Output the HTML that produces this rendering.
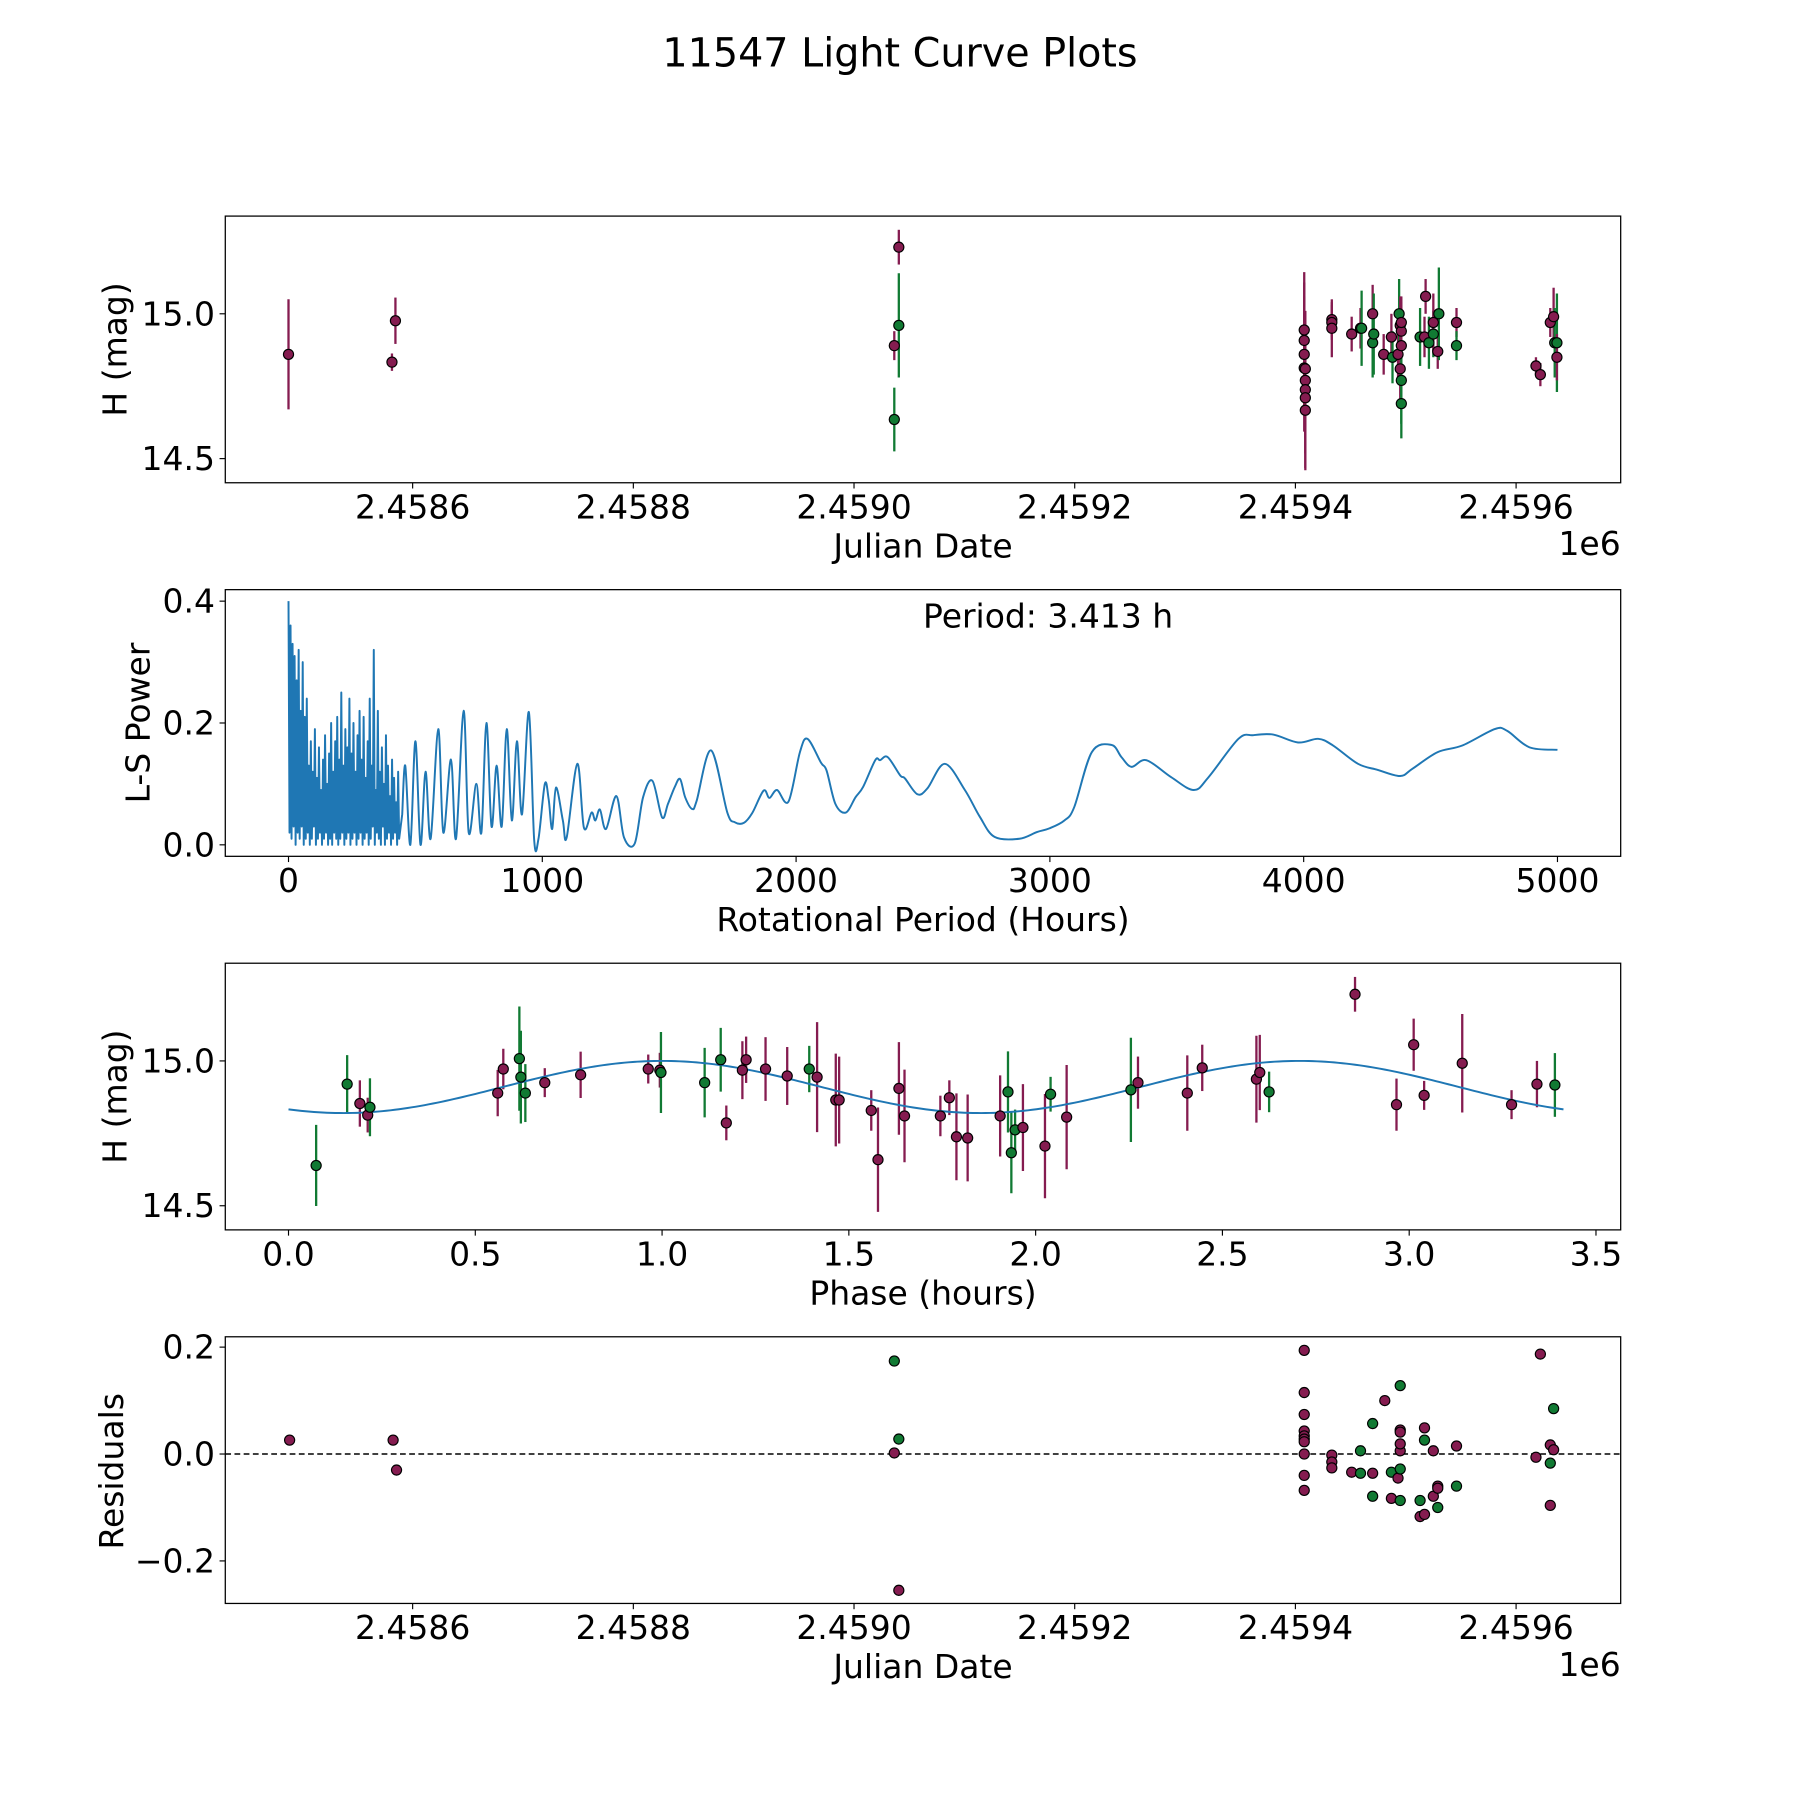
<!DOCTYPE html>
<html><head><meta charset="utf-8"><title>11547 Light Curve Plots</title>
<style>html,body{margin:0;padding:0;background:#fff}svg{display:block}text{font-family:"DejaVu Sans","Liberation Sans",sans-serif;fill:#000}</style>
</head><body>
<svg id="fig" width="1800" height="1800" viewBox="0 0 1566 1566" xmlns="http://www.w3.org/2000/svg">
<rect width="1566" height="1566" fill="#fff"/>
<text x="783" y="58" font-size="34.5" text-anchor="middle">11547 Light Curve Plots</text>
</svg>
<script>
// ---------- data ----------
const lcDay = [-112.5,-18.75,-15.6,436.5,440.6,436.5,440.6,808,808,808,808,809,809,809,809,809,833,833,833,851,859,860,870,870,871,880,887,888,893,894,895,895,896,896,896,896,896,913,917,918,921,925,925,929,930,946,946,1018,1022,1031,1034,1035,1037,1037];
const lcMag = [14.86,14.833,14.976,14.89,15.23,14.635,14.96,14.944,14.908,14.86,14.813,14.81,14.77,14.738,14.71,14.667,14.98,14.97,14.95,14.93,14.95,14.95,15.0,14.9,14.93,14.86,14.92,14.85,14.86,15.0,14.81,14.96,14.94,14.89,14.77,14.69,14.97,14.92,14.92,15.06,14.9,14.93,14.97,14.87,15.0,14.97,14.89,14.82,14.79,14.97,14.99,14.9,14.9,14.85];
const lcErr = [0.19,0.03,0.08,0.05,0.06,0.11,0.18,0.2,0.2,0.2,0.22,0.2,0.2,0.22,0.25,0.2,0.06,0.06,0.1,0.06,0.07,0.13,0.1,0.12,0.14,0.07,0.08,0.09,0.08,0.12,0.12,0.1,0.1,0.09,0.15,0.12,0.09,0.1,0.07,0.06,0.09,0.08,0.1,0.06,0.16,0.05,0.05,0.03,0.04,0.05,0.1,0.12,0.17,0.08];
const lcBand = ['p','p','p','p','p','g','g','p','p','p','p','p','p','p','p','p','p','p','p','p','p','g','p','g','g','p','p','g','p','g','p','p','p','p','g','g','p','g','p','p','g','g','p','p','g','p','g','p','p','p','p','g','g','p'];
const denseStart = 0, denseStep = 4;
const powerDense = [0.40,0.02,0.36,0.01,0.33,0.03,0.31,0.00,0.27,0.02,0.32,0.01,0.22,0.03,0.30,0.00,0.21,0.01,0.24,0.02,0.13,0.00,0.17,0.01,0.12,0.03,0.19,0.00,0.11,0.01,0.16,0.02,0.09,0.00,0.14,0.01,0.18,0.02,0.10,0.00,0.15,0.01,0.20,0.00,0.12,0.02,0.17,0.01,0.21,0.00,0.14,0.01,0.25,0.02,0.13,0.00,0.19,0.01,0.16,0.02,0.24,0.00,0.15,0.01,0.20,0.02,0.12,0.00,0.18,0.01,0.22,0.02,0.14,0.00,0.21,0.01,0.11,0.02,0.17,0.00,0.24,0.01,0.13,0.03,0.32,0.00,0.09,0.02,0.22,0.01,0.12,0.00,0.16,0.03,0.10,0.00,0.18,0.01,0.13,0.02,0.08,0.00,0.14,0.01,0.11,0.02,0.07,0.00,0.12,0.01];
const periodSparse = [448,460,480,500,520,540,560,590,610,640,660,690,710,740,760,780,800,820,840,860,880,900,920,947,968,985,1010,1025,1039,1054,1081,1096,1138,1164,1194,1209,1227,1251,1292,1322,1364,1397,1434,1472,1495,1522,1543,1563,1590,1608,1665,1729,1759,1794,1827,1872,1895,1925,1970,2015,2045,2098,2120,2155,2196,2234,2264,2312,2331,2361,2410,2429,2478,2518,2586,2665,2724,2782,2880,2949,2998,3057,3096,3165,3243,3282,3322,3380,3478,3567,3625,3743,3802,3880,3978,4057,4116,4214,4292,4380,4429,4527,4625,4753,4802,4890,5000];
const powerSparse = [0.05,0.13,0.0,0.17,0.0,0.12,0.01,0.19,0.02,0.14,0.01,0.22,0.02,0.1,0.02,0.2,0.03,0.13,0.03,0.19,0.04,0.17,0.05,0.218,0.008,0.01,0.10,0.075,0.026,0.094,0.04,0.012,0.133,0.028,0.053,0.04,0.058,0.026,0.08,0.012,0.002,0.078,0.105,0.045,0.067,0.095,0.108,0.078,0.059,0.072,0.155,0.053,0.037,0.036,0.052,0.089,0.077,0.09,0.071,0.152,0.174,0.135,0.122,0.067,0.053,0.078,0.095,0.139,0.139,0.144,0.114,0.109,0.083,0.093,0.133,0.09,0.046,0.013,0.010,0.021,0.027,0.04,0.062,0.152,0.164,0.144,0.128,0.139,0.111,0.09,0.111,0.174,0.180,0.181,0.168,0.174,0.163,0.133,0.123,0.113,0.125,0.152,0.163,0.19,0.187,0.16,0.156];
const phPhase = [0.074,0.157,0.191,0.212,0.218,0.56,0.575,0.618,0.622,0.634,0.686,0.782,0.963,0.994,0.997,1.114,1.172,1.157,1.215,1.225,1.277,1.335,1.394,1.415,1.465,1.474,1.56,1.578,1.634,1.649,1.745,1.769,1.788,1.818,1.905,1.926,1.935,1.945,1.966,2.025,2.04,2.083,2.255,2.274,2.406,2.446,2.591,2.6,2.625,2.855,2.966,3.012,3.04,3.142,3.274,3.342,3.39];
const phMag = [14.639,14.92,14.853,14.813,14.84,14.889,14.972,15.008,14.944,14.889,14.925,14.952,14.972,14.968,14.96,14.925,14.786,15.004,14.968,15.004,14.972,14.948,14.972,14.944,14.865,14.865,14.829,14.659,14.905,14.81,14.81,14.873,14.738,14.734,14.81,14.893,14.683,14.762,14.77,14.706,14.885,14.806,14.9,14.925,14.889,14.976,14.937,14.96,14.893,15.23,14.849,15.056,14.881,14.992,14.849,14.92,14.917];
const phErr = [0.14,0.1,0.08,0.06,0.1,0.08,0.07,0.18,0.16,0.1,0.05,0.08,0.05,0.06,0.14,0.12,0.06,0.11,0.1,0.08,0.11,0.1,0.08,0.19,0.16,0.15,0.07,0.18,0.16,0.16,0.07,0.06,0.15,0.15,0.14,0.14,0.14,0.07,0.15,0.18,0.06,0.18,0.18,0.09,0.13,0.08,0.15,0.13,0.07,0.06,0.09,0.09,0.05,0.17,0.05,0.08,0.11];
const phBand = ['g','g','p','p','g','p','p','g','g','g','p','p','p','p','g','g','p','g','p','p','p','p','g','p','p','p','p','p','p','p','p','p','p','p','p','g','g','g','p','p','g','p','g','p','p','p','p','p','g','p','p','p','p','p','p','p','g'];
const fitMean = 14.91, fitAmp = 0.09, fitPeriod = 1.7065, fitPeak = 1.0, fitEnd = 3.413;
const resDay = [-111.5,-17.7,-14.6,436.5,440.6,436.5,440.6,808,808,808,808,808,808,808,808,808,808,833,833,833,851,859,859,870,870,870,881,887,887,893,895,895,895,895,895,895,895,913,913,917,917,917,925,925,929,929,929,946,946,1018,1022,1031,1031,1031,1034,1034];
const resVal = [0.026,0.026,-0.03,0.174,0.028,0.002,-0.255,0.194,0.115,0.074,0.043,0.034,0.028,0.023,0.0,-0.04,-0.068,-0.002,-0.015,-0.026,-0.034,0.006,-0.036,-0.036,-0.079,0.057,0.1,-0.034,-0.083,-0.045,0.006,-0.028,0.045,0.041,0.019,0.128,-0.087,-0.087,-0.117,0.026,0.049,-0.113,-0.079,0.006,-0.06,-0.1,-0.064,0.015,-0.06,-0.006,0.187,0.017,-0.017,-0.096,0.085,0.008];
const resBand = ['p','p','p','g','g','p','p','p','p','p','p','p','p','p','p','p','p','p','p','p','p','g','g','p','g','g','p','g','p','p','p','g','p','p','p','g','g','g','p','g','p','p','p','p','p','g','p','p','g','p','p','p','g','p','g','p'];

// ---------- drawing ----------
const NS='http://www.w3.org/2000/svg';
const svg=document.getElementById('fig');
const PURPLE='#851c50', GREEN='#117a33', BLUE='#1f77b4';
function mk(tag,attrs,parent){const e=document.createElementNS(NS,tag);for(const k in attrs)e.setAttribute(k,attrs[k]);(parent||svg).appendChild(e);return e;}
const L=196,R=1410;
function lin(d0,d1,p0,p1){return v=>p0+(v-d0)*(p1-p0)/(d1-d0);}
function frame(top,bot,name){
  const r=mk('rect',{x:L,y:top,width:R-L,height:bot-top,fill:'none',stroke:'#000','stroke-width':1.1});
  
  
}
function xtick(px,bot,label,name){
  mk('line',{x1:px,x2:px,y1:bot,y2:bot+5,stroke:'#000','stroke-width':1});
  const t=mk('text',{x:px,y:bot+31,'font-size':28.7,'text-anchor':'middle'});t.textContent=label;
  
  
}
function ytick(py,label,name){
  mk('line',{x1:L-5,x2:L,y1:py,y2:py,stroke:'#000','stroke-width':1});
  const t=mk('text',{x:L-9,y:py+10,'font-size':28.7,'text-anchor':'end'});t.textContent=label;
  
  
}
function label(x,y,txt,name,rot,anchor){
  const t=mk('text',{x:x,y:y,'font-size':28.7,'text-anchor':anchor||'middle'});
  if(rot)t.setAttribute('transform','rotate(-90 '+x+' '+y+')');
  t.textContent=txt;
  
  
}
function dot(cx,cy,band,g){
  const c=mk('circle',{cx:cx,cy:cy,r:4.4,fill:band==='g'?GREEN:PURPLE,stroke:'#000','stroke-width':1},g);
  
  
}
function errbar(x,y1,y2,band,g){
  const l=mk('line',{x1:x,x2:x,y1:y1,y2:y2,stroke:band==='g'?GREEN:PURPLE,'stroke-width':2},g);
  
  
}
const jdTickDays=[0,200,400,600,800,1000];
const jdTickLabels=['2.4586','2.4588','2.4590','2.4592','2.4594','2.4596'];

// Panel 1
{const top=188,bot=420;
 const xs=lin(0,200,359,551), ys=lin(15.0,14.5,273,399);
 const g=mk('g',{});
 for(let i=0;i<lcDay.length;i++)errbar(xs(lcDay[i]),ys(lcMag[i]+lcErr[i]),ys(lcMag[i]-lcErr[i]),lcBand[i],g);
 for(let i=0;i<lcDay.length;i++)dot(xs(lcDay[i]),ys(lcMag[i]),lcBand[i],g);
 frame(top,bot,'light-curve');
 jdTickDays.forEach((d,i)=>xtick(xs(d),bot,jdTickLabels[i],'x-tick-label'));
 [15.0,14.5].forEach(v=>ytick(ys(v),v.toFixed(1),'y-tick-label'));
 label(803,485,'Julian Date','x-axis-title');
 label(1410,483,'1e6','x-axis-offset','','end');
 label(110,304,'H (mag)','y-axis-title',true);
}
// Panel 2
{const top=513,bot=745;
 const xs=lin(0,1000,251,471.8), ys=lin(0,0.2,735,629);
 let d='';
 for(let i=0;i<powerDense.length;i++){d+=(i?'L':'M')+xs(denseStart+i*denseStep).toFixed(2)+' '+ys(powerDense[i]).toFixed(2);}
 const pts=periodSparse.map((p,i)=>[xs(p),ys(powerSparse[i])]);
 d+='L'+pts[0][0].toFixed(2)+' '+pts[0][1].toFixed(2);
 for(let i=0;i<pts.length-1;i++){
   const p0=pts[Math.max(i-1,0)],p1=pts[i],p2=pts[i+1],p3=pts[Math.min(i+2,pts.length-1)];
   const c1=[p1[0]+(p2[0]-p0[0])/6,p1[1]+(p2[1]-p0[1])/6];
   const c2=[p2[0]-(p3[0]-p1[0])/6,p2[1]-(p3[1]-p1[1])/6];
   d+='C'+c1[0].toFixed(2)+' '+c1[1].toFixed(2)+' '+c2[0].toFixed(2)+' '+c2[1].toFixed(2)+' '+p2[0].toFixed(2)+' '+p2[1].toFixed(2);
 }
 const p=mk('path',{d:d,fill:'none',stroke:BLUE,'stroke-width':1.7,'stroke-linejoin':'round'});
 
 
 frame(top,bot,'periodogram');
 [0,1000,2000,3000,4000,5000].forEach(v=>xtick(xs(v),bot,String(v),'x-tick-label'));
 [0.0,0.2,0.4].forEach(v=>ytick(ys(v),v.toFixed(1),'y-tick-label'));
 label(803,810,'Rotational Period (Hours)','x-axis-title');
 label(130,629,'L-S Power','y-axis-title',true);
 label(803,546,'Period: 3.413 h','period-annotation','','start');
}
// Panel 3
{const top=838,bot=1070;
 const xs=lin(0,1,251,576), ys=lin(15.0,14.5,923,1049);
 let d='';
 for(let k=0;k<=300;k++){const ph=fitEnd*k/300;const m=fitMean+fitAmp*Math.cos(2*Math.PI*(ph-fitPeak)/fitPeriod);d+=(k?'L':'M')+xs(ph).toFixed(2)+' '+ys(m).toFixed(2);}
 const g=mk('g',{});
 for(let i=0;i<phPhase.length;i++)errbar(xs(phPhase[i]),ys(phMag[i]+phErr[i]),ys(phMag[i]-phErr[i]),phBand[i],g);
 const p=mk('path',{d:d,fill:'none',stroke:BLUE,'stroke-width':1.7},g);
 
 
 for(let i=0;i<phPhase.length;i++)dot(xs(phPhase[i]),ys(phMag[i]),phBand[i],g);
 frame(top,bot,'phased');
 [0,0.5,1,1.5,2,2.5,3,3.5].forEach(v=>xtick(xs(v),bot,v.toFixed(1),'x-tick-label'));
 [15.0,14.5].forEach(v=>ytick(ys(v),v.toFixed(1),'y-tick-label'));
 label(803,1135,'Phase (hours)','x-axis-title');
 label(110,954,'H (mag)','y-axis-title',true);
}
// Panel 4
{const top=1163,bot=1395;
 const xs=lin(0,200,359,551), ys=lin(0,0.2,1265,1172);
 const z=mk('line',{x1:L,x2:R,y1:ys(0),y2:ys(0),stroke:'#000','stroke-width':1.3,'stroke-dasharray':'5,3'});
 
 
 const g=mk('g',{});
 for(let i=0;i<resDay.length;i++)dot(xs(resDay[i]),ys(resVal[i]),resBand[i],g);
 frame(top,bot,'residuals');
 jdTickDays.forEach((d,i)=>xtick(xs(d),bot,jdTickLabels[i],'x-tick-label'));
 [-0.2,0.0,0.2].forEach(v=>ytick(ys(v),(v<0?'\u2212':'')+Math.abs(v).toFixed(1),'y-tick-label'));
 label(803,1460,'Julian Date','x-axis-title');
 label(1410,1458,'1e6','x-axis-offset','','end');
 label(107,1280,'Residuals','y-axis-title',true);
}
</script>
</body></html>
